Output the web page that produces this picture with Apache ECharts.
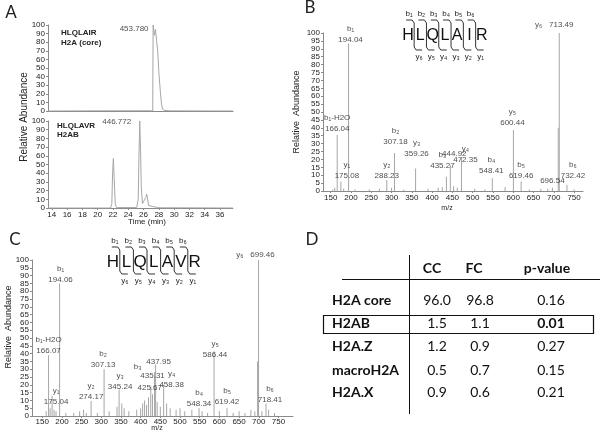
<!DOCTYPE html>
<html><head><meta charset="utf-8">
<script src="https://cdn.jsdelivr.net/npm/echarts@6/dist/echarts.min.js"></script>
<style>html,body{margin:0;padding:0;background:#fff}#c{width:600px;height:431px}</style>
</head><body><div id="c"></div>
<script>
// ===== DATA =====
// Panel A: extracted ion chromatograms (time in min, relative abundance)
const aTimeTicks = [14,16,18,20,22,24,26,28,30,32,34,36];
const aTopTime  = [13.5,20.0,26.9,27.2,27.25,27.4,27.55,27.7,27.85,28.0,28.2,28.35,28.5,28.8,29.5,33.0,37.7];
const aTopAbund = [0,0.2,0.3,0,100,88,95,82,70,45,22,8,2,0.6,0.2,0.1,0];
const aBotTime  = [13.5,21.7,21.85,21.95,22.05,22.15,22.3,22.45,25.1,25.3,25.4,25.5,25.6,25.7,25.85,26.1,26.3,26.4,26.5,26.65,26.9,27.3,27.6,28.0,37.7];
const aBotAbund = [0,0,5,40,57,35,5,0.5,0.5,10,60,100,70,25,5,4,12,16,12,3,1,1.5,1,0.3,0];
const aTopTitle = ['HLQLAIR','H2A (core)'];
const aBotTitle = ['HLQLAVR','H2AB'];
const aTopMass = '453.780', aTopApex = [27.25,100];
const aBotMass = '446.772', aBotApex = [25.5,100];

// Panel B: MS/MS spectrum of HLQLAIR
const bMz  = [155,160,166.04,175.08,182,194.04,210,245,270,288.23,300,307.18,330,359.26,390,415,425,435.27,444.92,453,462,472.35,505,530,548.41,580,600.44,619.46,640,668,685,696.54,711.0,713.49,732.42,750];
const bInt = [1,2,35.4,6,1.5,93.5,1,1,1.5,7,2,24,1,14.3,1.5,2,2.5,9,16.5,3,2,20.7,1.5,1,8,2.5,38.6,6,1,1.5,1.5,2,40,100,4,1];
const bLabelMz   = [166.04,175.08,194.04,288.23,307.18,359.26,435.27,444.92,472.35,548.41,600.44,619.46,696.54,713.49,732.42];
const bLabelText = ['b₁-H2O\n166.04','y₁\n175.08','b₁\n194.04','y₂\n288.23','b₂\n307.18','y₃\n359.26','b₃\n435.27','444.92','y₄\n472.35','b₄\n548.41','y₅\n600.44','b₅\n619.46','696.54','y₆   713.49','b₆\n732.42'];
const bSequence = ['H','L','Q','L','A','I','R'];

// Panel C: MS/MS spectrum of HLQLAVR
const cMz  = [160,166.07,170,175.04,180,185,194.06,210,230,245,255,262,274.17,290,307.13,320,340,345.24,352,358,370,390,400,405,410,415,420,425.67,430,435.31,437.95,442,450,458.38,466,475,490,500,512,530,548.34,556,570,586.44,600,619.42,635,650,665,680,690,697.0,699.46,708,718.41,725,740];
const cInt = [3,39,5,13,4,3,85,2,2,3,4,2,9.6,2,30,3,6,17,8,5,3,4,5,8,10,7,12,19,14,28,33,9,6,20,8,5,4,5,3,4,5,3,2,41.5,3,5,2,3,2,4,3,35,100,3,8,4,2];
const cLabelMz   = [166.07,175.04,194.06,274.17,307.13,345.24,435.31,425.67,435.31,437.95,458.38,548.34,586.44,619.42,699.46,718.41];
const cLabelText = ['b₁-H2O\n166.07','y₁\n175.04','b₁\n194.06','y₂\n274.17','b₂\n307.13','y₃\n345.24','b₃','425.67','435.31','437.95','y₄\n458.38','b₄\n548.34','y₅\n586.44','b₅\n619.42','y₆   699.46','b₆\n718.41'];
const cSequence = ['H','L','Q','L','A','V','R'];

const mzTicks = [150,200,250,300,350,400,450,500,550,600,650,700,750];

// Panel D: table
const dColumns = ['CC','FC','p-value'];
const dRows = ['H2A core','H2AB','H2A.Z','macroH2A','H2A.X'];
const dCC = ['96.0','1.5','1.2','0.5','0.9'];
const dFC = ['96.8','1.1','0.9','0.7','0.6'];
const dP  = ['0.16','0.01','0.27','0.15','0.21'];
const dHighlight = 'H2AB';

// ===== STYLE / LAYOUT =====
const F = 'Liberation Sans, Arial, sans-serif';
const TF = 'Lato, Open Sans, sans-serif';
const axisCol = '#8a8a8a', txt = '#222', peakCol = '#a6a6a6';
const bLabelOffset = [[0,-1],[6,0],[2,2],[0,1],[1,-6],[1,-9],[-4,-5],[4,-6],[4,7],[-1,-2],[-1,-2],[0,0],[0,-2],[-5,-3],[6,-3]];
const cLabelOffset = [[0,1],[4,12],[1,2],[0,1],[-1,1],[1,3],[-17,0],[-1,7],[-2,9],[3,3],[8,5],[0,1],[1,9],[0,-1],[-3,0],[4,2]];

const zip = (a,b) => a.map((v,i)=>[v,b[i]]);

function valueAxis(gi, opts) {
  return Object.assign({
    type:'value', gridIndex: gi,
    axisLine:{show:true, lineStyle:{color:axisCol, width:1}},
    axisTick:{show:true, length:2, lineStyle:{color:axisCol}},
    splitLine:{show:false},
    axisLabel:{fontFamily:F, fontSize:8, color:txt, margin:3}
  }, opts);
}

function labelSeries(xi, mzArr, intArr, lmz, ltxt, loff) {
  return {
    type:'scatter', xAxisIndex:xi, yAxisIndex:xi, symbolSize:0, silent:true, z:5,
    data: lmz.map((m,i)=>({
      value:[m, intArr[mzArr.indexOf(m)]],
      label:{show:true, position:'top', distance:0, offset:loff[i],
        formatter: ltxt[i], fontFamily:F, fontSize:8, lineHeight:11, color:txt, align:'center'}
    }))
  };
}

// sequence diagram graphics
function seqGraphics(seq, x0, step, yMid, fs, top, bot) {
  const g = [];
  seq.forEach((s,i)=>{
    g.push({type:'text', x:x0+i*step, y:yMid, style:{text:s, fontFamily:F, fontSize:fs, fill:'#111', align:'center', verticalAlign:'middle'}});
  });
  for (let k=1;k<seq.length;k++){
    const xd = x0+(k-0.5)*step;
    g.push({type:'polyline', shape:{points:[[xd-8,top],[xd-2,top],[xd,top+3],[xd,bot-3],[xd+2,bot],[xd+8,bot]]},
      style:{stroke:'#333', lineWidth:1, fill:null}});
    g.push({type:'text', x:xd-5, y:top-6, style:{text:'b'+['','₁','₂','₃','₄','₅','₆'][k], fontFamily:F, fontSize:8, fill:txt, align:'center', verticalAlign:'middle'}});
    g.push({type:'text', x:xd+5, y:bot+7, style:{text:'y'+['','₁','₂','₃','₄','₅','₆'][seq.length-k], fontFamily:F, fontSize:8, fill:txt, align:'center', verticalAlign:'middle'}});
  }
  return g;
}

const graphics = [];
const T = (x,y,text,o={}) => graphics.push({type:'text', x, y, rotation:o.rot||0,
  style:Object.assign({text, fontFamily:F, fontSize:8, fill:txt, align:'center', verticalAlign:'middle'}, o.s||{})});

// panel letters
T(11,13,'A',{s:{fontSize:17, fontFamily:TF}});
T(310,8,'B',{s:{fontSize:17, fontFamily:TF}});
T(15,240,'C',{s:{fontSize:17, fontFamily:TF}});
T(312,240,'D',{s:{fontSize:17, fontFamily:TF}});
// axis names
T(24,117,'Relative Abundance',{rot:Math.PI/2, s:{fontSize:10}});
T(297,112,'Relative  Abundance',{rot:Math.PI/2, s:{fontSize:9}});
T(9,327,'Relative  Abundance',{rot:Math.PI/2, s:{fontSize:9}});
T(147,222,'Time (min)',{s:{fontSize:8}});
T(447,208,'m/z',{s:{fontSize:7}});
T(157,428,'m/z',{s:{fontSize:7}});
// chromatogram titles
T(61,33,aTopTitle[0],{s:{align:'left', fontWeight:'bold', fontSize:8}});
T(61,43,aTopTitle[1],{s:{align:'left', fontWeight:'bold', fontSize:8}});
T(57,126,aBotTitle[0],{s:{align:'left', fontWeight:'bold', fontSize:8}});
T(57,135,aBotTitle[1],{s:{align:'left', fontWeight:'bold', fontSize:8}});
// sequences
graphics.push(...seqGraphics(bSequence, 408, 12.3, 36, 16, 20, 50));
graphics.push(...seqGraphics(cSequence, 113, 13.6, 262, 17, 247, 274));

// table D
const colX = [437, 480, 551], hdrX = [432, 474, 547];
dColumns.forEach((c,i)=>T(hdrX[i],268,c,{s:{fontFamily:TF, fontSize:14, fontWeight:'bold', fill:'#111'}}));
const rowY = [300,323,346,370,392];
dRows.forEach((r,i)=>{
  T(332,rowY[i],r,{s:{fontFamily:TF, fontSize:14, fontWeight:'bold', align:'left', fill:'#111'}});
  T(colX[0],rowY[i],dCC[i],{s:{fontFamily:TF, fontSize:14, fill:'#111'}});
  T(colX[1],rowY[i],dFC[i],{s:{fontFamily:TF, fontSize:14, fill:'#111'}});
  T(colX[2],rowY[i],dP[i],{s:{fontFamily:TF, fontSize:14, fill:'#111', fontWeight: r===dHighlight?'bold':'normal'}});
  if (r===dHighlight) graphics.push({type:'rect', shape:{x:323.5,y:rowY[i]-7.5,width:270,height:18}, style:{stroke:'#111', lineWidth:1.2, fill:null}});
});
graphics.push({type:'line', shape:{x1:409.5,y1:255,x2:409.5,y2:414}, style:{stroke:'#111', lineWidth:1}});
graphics.push({type:'line', shape:{x1:342,y1:279.5,x2:600,y2:279.5}, style:{stroke:'#111', lineWidth:1}});

const option = {
  animation:false,
  backgroundColor:'#fff',
  grid:[
    {left:48, top:25, width:185, height:86},
    {left:48, top:121, width:185, height:87},
    {left:323, top:33, width:260, height:158},
    {left:32, top:260, width:261, height:156}
  ],
  xAxis:[
    valueAxis(0,{min:13.5,max:37.7, axisTick:{show:false}, axisLabel:{show:false}}),
    valueAxis(1,{min:13.5,max:37.7, axisLabel:{fontFamily:F, fontSize:8, color:txt, margin:3, customValues:aTimeTicks}, axisTick:{show:true,length:2,lineStyle:{color:axisCol},customValues:aTimeTicks}}),
    valueAxis(2,{min:131,max:772, axisLabel:{fontFamily:F, fontSize:8, color:txt, margin:3, customValues:mzTicks}, axisTick:{show:true,length:2,lineStyle:{color:axisCol},customValues:mzTicks}}),
    valueAxis(3,{min:124,max:787, axisLabel:{fontFamily:F, fontSize:8, color:txt, margin:2, customValues:mzTicks}, axisTick:{show:true,length:2,lineStyle:{color:axisCol},customValues:mzTicks}})
  ],
  yAxis:[
    valueAxis(0,{min:0,max:100,interval:10}),
    valueAxis(1,{min:0,max:100,interval:10}),
    valueAxis(2,{min:0,max:100,interval:5}),
    valueAxis(3,{min:0,max:100,interval:5})
  ],
  series:[
    {type:'line', xAxisIndex:0, yAxisIndex:0, data:zip(aTopTime,aTopAbund), showSymbol:false, lineStyle:{color:peakCol,width:1}},
    {type:'line', xAxisIndex:1, yAxisIndex:1, data:zip(aBotTime,aBotAbund), showSymbol:false, lineStyle:{color:peakCol,width:1}},
    {type:'scatter', xAxisIndex:0, yAxisIndex:0, symbolSize:0, silent:true, data:[aTopApex],
      label:{show:true, position:'top', distance:0, offset:[-19,8], formatter:aTopMass, fontFamily:F, fontSize:8, color:txt}},
    {type:'scatter', xAxisIndex:1, yAxisIndex:1, symbolSize:0, silent:true, data:[aBotApex],
      label:{show:true, position:'top', distance:0, offset:[-23,5], formatter:aBotMass, fontFamily:F, fontSize:8, color:txt}},
    {type:'bar', xAxisIndex:2, yAxisIndex:2, data:zip(bMz,bInt), barWidth:1, itemStyle:{color:peakCol}},
    {type:'bar', xAxisIndex:3, yAxisIndex:3, data:zip(cMz,cInt), barWidth:1, itemStyle:{color:peakCol}},
    labelSeries(2, bMz, bInt, bLabelMz, bLabelText, bLabelOffset),
    labelSeries(3, cMz, cInt, cLabelMz, cLabelText, cLabelOffset)
  ],
  graphic: graphics
};
const chart = echarts.init(document.getElementById('c'), null, {renderer:'canvas'});
chart.setOption(option);
</script></body></html>
